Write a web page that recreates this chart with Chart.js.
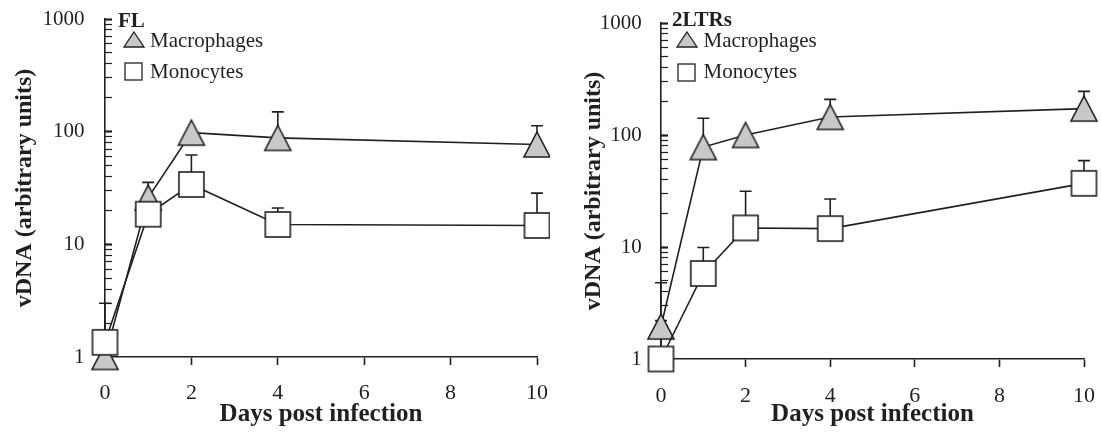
<!DOCTYPE html>
<html><head><meta charset="utf-8">
<script src="https://cdn.jsdelivr.net/npm/chart.js@4.4.1/dist/chart.umd.min.js"></script>
<style>
html,body{margin:0;padding:0;background:#fff;overflow:hidden}
#wrap{position:relative;width:1101px;height:434px}
canvas{position:absolute;top:0}
</style></head><body>
<div id="wrap"><canvas id="c1" width="550" height="434" style="left:0"></canvas><canvas id="c2" width="551" height="434" style="left:550px"></canvas></div>
<script>
// ---- data ----
const days = [0, 1, 2, 4, 10];
const xTickValues = [0, 2, 4, 6, 8, 10];
const yTickValues = [1, 2, 3, 4, 5, 6, 7, 8, 9, 10, 20, 30, 40, 50, 60, 70, 80, 90, 100, 200, 300, 400, 500, 600, 700, 800, 900, 1000];
const yTickLabels = [1, 10, 100, 1000];
const seriesNames = ['Macrophages', 'Monocytes'];
const panelTitles = ['FL', '2LTRs'];
const xAxisTitle = 'Days post infection';
const yAxisTitle = 'vDNA (arbitrary units)';

const flMacrophages = [1.0, 26, 98, 88, 77];
const flMacrophagesErr = [null, 35.5, null, 150, 113];
const flMonocytes = [1.35, 18.5, 34, 15, 14.7];
const flMonocytesErr = [3.0, null, 62, 21, 28.5];

const ltrMacrophages = [1.95, 78, 100, 145, 172];
const ltrMacrophagesErr = [4.8, 141, null, 208, 245];
const ltrMonocytes = [1.0, 5.8, 14.8, 14.6, 37];
const ltrMonocytesErr = [2.2, 9.9, 31.5, 26.8, 59];

// ---- styles ----
const INK = '#231f20';
const GREY = '#c8c8c8';
const SERIF = '"Liberation Serif", "Times New Roman", serif';

function makeTriangle(w, h, lw) {
  const pad = 3;
  const c = document.createElement('canvas');
  c.width = w + 2 * pad; c.height = h + 2 * pad;
  const g = c.getContext('2d');
  g.beginPath();
  g.moveTo(pad + w / 2, pad);
  g.lineTo(pad + w, pad + h);
  g.lineTo(pad, pad + h);
  g.closePath();
  g.fillStyle = GREY; g.fill();
  g.lineWidth = lw; g.strokeStyle = INK; g.stroke();
  return c;
}
function makeSquare(s, lw) {
  const pad = 2;
  const c = document.createElement('canvas');
  c.width = s + 2 * pad; c.height = s + 2 * pad;
  const g = c.getContext('2d');
  g.fillStyle = '#ffffff'; g.fillRect(pad, pad, s, s);
  g.lineWidth = lw; g.strokeStyle = INK; g.strokeRect(pad, pad, s, s);
  return c;
}
const triBig = makeTriangle(26, 25, 1.6);
const sqBig = makeSquare(25, 1.6);
const triSmall = makeTriangle(20, 15, 1.3);
const sqSmall = makeSquare(17, 1.3);

const errorBars = {
  id: 'errorBars',
  beforeDatasetsDraw(chart) {
    const {ctx} = chart; const xs = chart.scales.x, ys = chart.scales.y;
    ctx.save(); ctx.strokeStyle = INK; ctx.lineWidth = 1.6;
    chart.data.datasets.forEach(ds => {
      (ds.errTop || []).forEach((e, i) => {
        if (e == null) return;
        const x = xs.getPixelForValue(ds.data[i].x);
        const y0 = ys.getPixelForValue(ds.data[i].y);
        const y1 = ys.getPixelForValue(e);
        ctx.beginPath();
        ctx.moveTo(x, y0); ctx.lineTo(x, y1);
        ctx.moveTo(x - 6, y1); ctx.lineTo(x + 6, y1);
        ctx.stroke();
      });
    });
    ctx.restore();
  }
};

const insideLegend = {
  id: 'insideLegend',
  afterDraw(chart, args, o) {
    const {ctx, chartArea} = chart;
    ctx.save();
    ctx.fillStyle = INK;
    ctx.textBaseline = 'alphabetic';
    ctx.textAlign = 'left';
    ctx.font = 'bold 21px ' + SERIF;
    ctx.fillText(o.title, chartArea.left + o.titleDx, o.titleBaseline);
    ctx.font = '21px ' + SERIF;
    const marks = [triSmall, sqSmall];
    seriesNames.forEach((name, i) => {
      const m = marks[i];
      const cx = chartArea.left + o.markerDx, cy = o.markerY[i];
      ctx.drawImage(m, Math.round(cx - m.width / 2), Math.round(cy - m.height / 2));
      ctx.fillText(name, chartArea.left + o.textDx, o.textBaseline[i]);
    });
    ctx.restore();
  }
};

function build(canvasId, P) {
  const toPts = arr => days.map((d, i) => ({x: d, y: arr[i]}));
  new Chart(document.getElementById(canvasId), {
    type: 'line',
    data: {
      datasets: [
        {label: seriesNames[0], data: toPts(P.macro), errTop: P.macroErr, order: 2,
         borderColor: INK, borderWidth: 1.6, pointStyle: triBig, pointRadius: 13, clip: false, tension: 0},
        {label: seriesNames[1], data: toPts(P.mono), errTop: P.monoErr, order: 1,
         borderColor: INK, borderWidth: 1.6, pointStyle: sqBig, pointRadius: 13, clip: false, tension: 0}
      ]
    },
    options: {
      responsive: false, animation: false, devicePixelRatio: 1,
      layout: {autoPadding: false, padding: {left: 0, top: P.padTop, right: P.padRight, bottom: 0}},
      plugins: {legend: {display: false}, tooltip: {enabled: false}, insideLegend: P.legend},
      scales: {
        x: {
          type: 'linear', min: 0, max: 10,
          afterBuildTicks: s => { s.ticks = xTickValues.map(v => ({value: v})); },
          afterFit: s => { s.height = P.xAxisHeight; s.paddingLeft = 0; s.paddingRight = 0; s.paddingTop = 0; s.paddingBottom = 0; },
          border: {color: INK, width: 1.6},
          grid: {drawOnChartArea: false, drawTicks: true, tickLength: 8, tickColor: INK, tickWidth: 1.6},
          ticks: {font: {family: SERIF, size: 22}, color: INK, padding: P.xTickPad, maxRotation: 0, autoSkip: false},
          title: {display: true, text: xAxisTitle, color: INK, font: {family: SERIF, size: 25, weight: 'bold'}, padding: {top: 0, bottom: 4}}
        },
        y: {
          type: 'logarithmic', min: 1, max: 1000,
          afterBuildTicks: s => { s.ticks = yTickValues.map(v => ({value: v, major: yTickLabels.includes(v)})); },
          afterFit: s => { s.width = P.yAxisWidth; s.paddingTop = 0; s.paddingBottom = 0; s.paddingLeft = 0; s.paddingRight = 0; },
          border: {color: INK, width: 1.6},
          grid: {drawOnChartArea: false, drawTicks: true, tickLength: -7, tickColor: INK,
                 tickWidth: c => (c.tick && yTickLabels.includes(c.tick.value)) ? 2.2 : 1.2},
          ticks: {autoSkip: false, font: {family: SERIF, size: 21}, color: INK, padding: P.yTickPad,
                  callback: v => yTickLabels.includes(v) ? String(v) : ''},
          title: {display: true, text: yAxisTitle, color: INK, font: {family: SERIF, size: 24, weight: 'bold'}, padding: {top: P.yTitlePad, bottom: 0}}
        }
      }
    },
    plugins: [errorBars, insideLegend]
  });
}

build('c1', {
  macro: flMacrophages, macroErr: flMacrophagesErr, mono: flMonocytes, monoErr: flMonocytesErr,
  padTop: 19, padRight: 13, xAxisHeight: 77, yAxisWidth: 105,
  xTickPad: 15, yTickPad: 27.5, yTitlePad: 10.5,
  legend: {title: panelTitles[0], titleDx: 13, titleBaseline: 27, markerDx: 28.5, markerY: [39.5, 71.5], textDx: 45, textBaseline: [46.5, 77.5]}
});
build('c2', {
  macro: ltrMacrophages, macroErr: ltrMacrophagesErr, mono: ltrMonocytes, monoErr: ltrMonocytesErr,
  padTop: 23, padRight: 17, xAxisHeight: 75, yAxisWidth: 111,
  xTickPad: 16, yTickPad: 26.3, yTitlePad: 29,
  legend: {title: panelTitles[1], titleDx: 11, titleBaseline: 26, markerDx: 25.5, markerY: [39.7, 72], textDx: 42.5, textBaseline: [46.5, 78]}
});
</script>
</body></html>
